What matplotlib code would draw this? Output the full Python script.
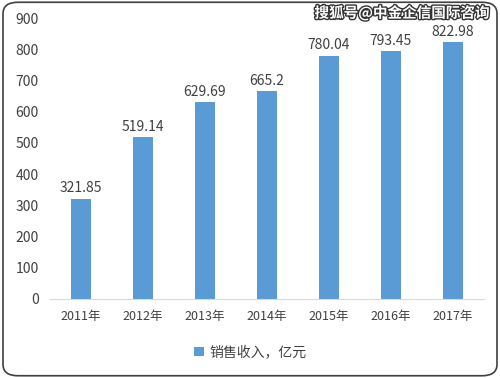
import matplotlib
matplotlib.use("Agg")
import matplotlib.pyplot as plt
from matplotlib.patches import FancyBboxPatch

plt.rcParams['font.family'] = ['Noto Sans CJK SC', 'DejaVu Sans']

years = ["2011年", "2012年", "2013年", "2014年", "2015年", "2016年", "2017年"]
values = [321.85, 519.14, 629.69, 665.2, 780.04, 793.45, 822.98]
labels = ["321.85", "519.14", "629.69", "665.2", "780.04", "793.45", "822.98"]
yticks = [0, 100, 200, 300, 400, 500, 600, 700, 800, 900]

fig = plt.figure(figsize=(5, 3.78), dpi=100)
fig.patch.set_facecolor('white')
border = FancyBboxPatch((0.006, 0.006), 0.988, 0.988, boxstyle="round,pad=0,rounding_size=0.03",
                        transform=fig.transFigure, facecolor='none', edgecolor='#404040', linewidth=1.2)
fig.patches.append(border)

ax = fig.add_axes([0.1, 0.209, 0.868, 0.743])
x = range(len(years))
bars = ax.bar(x, values, width=0.31, color='#5B9BD5', label='销售收入，亿元')
for xi, v, lab in zip(x, values, labels):
    ax.text(xi, v + 10, lab, ha='center', va='bottom', fontsize=10, color='#404040')

ax.set_ylim(0, 900)
ax.set_xlim(-0.5, len(years) - 0.5)
ax.set_yticks(yticks)
ax.set_yticklabels([str(t) for t in yticks], fontsize=10, color='#404040')
ax.set_xticks(list(x))
ax.set_xticklabels(years, fontsize=9, color='#404040')
for s in ['top', 'right', 'left']:
    ax.spines[s].set_visible(False)
ax.spines['bottom'].set_color('#D9D9D9')
ax.tick_params(axis='both', length=0, pad=8)

fig.legend(handles=[bars], labels=['销售收入，亿元'], loc='center', bbox_to_anchor=(0.5, 0.068),
           frameon=False, fontsize=10, handlelength=0.7, handleheight=0.7, handletextpad=0.4,
           labelcolor='#404040')

fig.text(0.98, 0.965, '搜狐号@中金企信国际咨询', ha='right', va='center', fontsize=10.5,
         color='white', fontweight='bold',
         path_effects=[__import__('matplotlib.patheffects', fromlist=['x']).withStroke(linewidth=2, foreground='#333333')])

fig.savefig('out.png', dpi=100)
